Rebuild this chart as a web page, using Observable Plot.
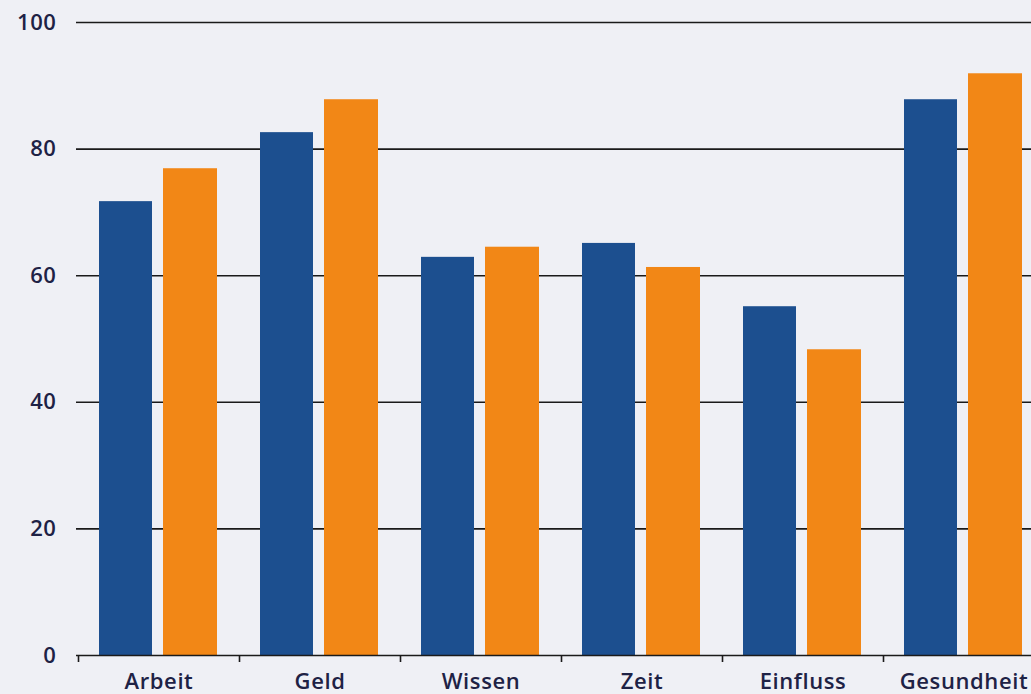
<!DOCTYPE html>
<html><head><meta charset="utf-8">
<script src="https://cdn.jsdelivr.net/npm/d3@7"></script>
<script src="https://cdn.jsdelivr.net/npm/@observablehq/plot@0.6"></script>
<style>body{margin:0;background:#eff0f5;overflow:hidden}</style>
</head><body><div id="chart"></div>
<script>
const categories = ["Arbeit", "Geld", "Wissen", "Zeit", "Einfluss", "Gesundheit"];
const seriesBlue = [71.7, 82.6, 62.9, 65.1, 55.1, 87.8];
const seriesOrange = [76.9, 87.8, 64.5, 61.3, 48.3, 91.9];
const yTicks = [0, 20, 40, 60, 80, 100];

const blueRows = categories.map((c, i) => ({cat: c, v: seriesBlue[i]}));
const orangeRows = categories.map((c, i) => ({cat: c, v: seriesOrange[i]}));

const chart = Plot.plot({
  width: 1031,
  height: 694,
  marginLeft: 76,
  marginRight: 0,
  marginTop: 22,
  marginBottom: 39,
  style: {background: "#eff0f5", fontFamily: "Open Sans", fontSize: "22px", fontWeight: 600, letterSpacing: "0.6px", color: "#1e2245"},
  x: {domain: categories, range: [78, 1044], padding: 0, axis: null},
  y: {domain: [0, 100], axis: null},
  marks: [
    Plot.ruleY(yTicks.filter(t => t > 0), {stroke: "#1a1a1a", strokeWidth: 1.6}),
    Plot.barY(blueRows, {x: "cat", y: "v", fill: "#1c4f8f", insetLeft: 21, insetRight: 87}),
    Plot.barY(orangeRows, {x: "cat", y: "v", fill: "#f28716", insetLeft: 85, insetRight: 22}),
    Plot.ruleY([0], {stroke: "#1a1a1a", strokeWidth: 1.6}),
    Plot.axisY({ticks: yTicks, tickSize: 0, tickPadding: 20, anchor: "left", label: null}),
    Plot.axisX({tickSize: 0, tickPadding: 18, label: null}),
    Plot.axisX({tickSize: 7, tickFormat: () => "", label: null, dx: -80.5, stroke: "#1a1a1a", strokeWidth: 1.6})
  ]
});
document.getElementById("chart").appendChild(chart);
</script>
</body></html>
